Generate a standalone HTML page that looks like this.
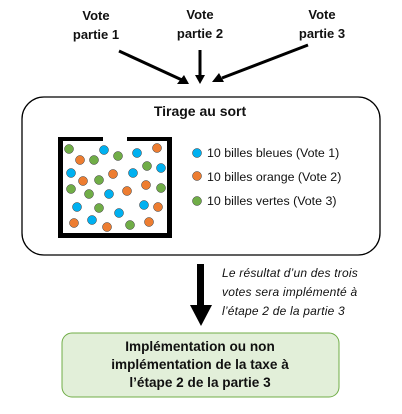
<!DOCTYPE html>
<html><head><meta charset="utf-8"><style>
html,body{margin:0;padding:0;background:#fff;}
svg{display:block;font-family:"Liberation Sans",sans-serif;}
</style></head><body>
<svg width="402" height="414" viewBox="0 0 402 414" xmlns="http://www.w3.org/2000/svg">
<g font-weight="bold" font-size="13" fill="#111" text-anchor="middle">
<text x="96" y="20">Vote</text><text x="96" y="39">partie 1</text>
<text x="200" y="19">Vote</text><text x="200" y="38">partie  2</text>
<text x="322" y="19">Vote</text><text x="322" y="38">partie 3</text>
</g>
<g stroke="#000" stroke-width="3" fill="none">
<line x1="119" y1="51" x2="182" y2="80"/>
<line x1="200" y1="50" x2="200" y2="76"/>
<line x1="308" y1="45" x2="222" y2="78"/>
</g>
<polygon points="189,84 177,84 184,75" fill="#000"/>
<polygon points="195,75 205,75 200,84" fill="#000"/>
<polygon points="212,82 219,73 224,82" fill="#000"/>
<rect x="22" y="97" width="358" height="158" rx="22" fill="#fff" stroke="#000" stroke-width="1.3"/>
<text x="200" y="116" font-weight="bold" font-size="14" text-anchor="middle" fill="#111">Tirage au sort</text>
<g fill="#000">
<rect x="58" y="137" width="5" height="100"/>
<rect x="167" y="137" width="5" height="100"/>
<rect x="58" y="233" width="114" height="5"/>
<rect x="58" y="137" width="45" height="4"/>
<rect x="127" y="137" width="45" height="4"/>
</g>
<g stroke="#333" stroke-width="0.5">
<g fill="#00b0f0">
<circle cx="104" cy="150" r="4.5"/><circle cx="137" cy="153" r="4.5"/><circle cx="161" cy="168" r="4.5"/>
<circle cx="71" cy="173" r="4.5"/><circle cx="133" cy="173" r="4.5"/><circle cx="109" cy="194" r="4.5"/>
<circle cx="77" cy="207" r="4.5"/><circle cx="119" cy="213" r="4.5"/><circle cx="144" cy="205" r="4.5"/>
<circle cx="92" cy="220" r="4.5"/>
<circle cx="197" cy="153" r="4.5"/>
</g>
<g fill="#ed7d31">
<circle cx="80" cy="160" r="4.5"/><circle cx="157" cy="148" r="4.5"/><circle cx="83" cy="181" r="4.5"/>
<circle cx="113" cy="174" r="4.5"/><circle cx="146" cy="185" r="4.5"/><circle cx="127" cy="191" r="4.5"/>
<circle cx="158" cy="207" r="4.5"/><circle cx="74" cy="223" r="4.5"/><circle cx="107" cy="227" r="4.5"/>
<circle cx="149" cy="222" r="4.5"/>
<circle cx="197" cy="176" r="4.5"/>
</g>
<g fill="#70ad47">
<circle cx="69" cy="149" r="4.5"/><circle cx="94" cy="160" r="4.5"/><circle cx="118" cy="156" r="4.5"/>
<circle cx="147" cy="166" r="4.5"/><circle cx="99" cy="180" r="4.5"/><circle cx="71" cy="189" r="4.5"/>
<circle cx="89" cy="194" r="4.5"/><circle cx="161" cy="188" r="4.5"/><circle cx="99" cy="208" r="4.5"/>
<circle cx="130" cy="225" r="4.5"/>
<circle cx="197" cy="201" r="4.5"/>
</g>
</g>
<g font-size="12.4" fill="#111">
<text x="207" y="157">10 billes bleues (Vote 1)</text>
<text x="207" y="181">10 billes orange (Vote 2)</text>
<text x="207" y="205">10 billes vertes (Vote 3)</text>
</g>
<rect x="197" y="264" width="7" height="43" fill="#000"/>
<polygon points="190,305 212,305 201,326" fill="#000"/>
<g font-size="12" font-style="italic" fill="#111" letter-spacing="0.2">
<text x="222" y="277">Le résultat d’un des trois</text>
<text x="222" y="296">votes sera implémenté à</text>
<text x="222" y="315">l’étape 2 de la partie 3</text>
</g>
<rect x="62" y="333" width="277" height="64" rx="10" fill="#e2efd9" stroke="#70ad47" stroke-width="1"/>
<g font-weight="bold" font-size="13.6" fill="#111" text-anchor="middle">
<text x="200" y="351">Implémentation ou non</text>
<text x="200" y="369">implémentation de la taxe à</text>
<text x="200" y="387">l’étape 2 de la partie 3</text>
</g>
</svg>
</body></html>
